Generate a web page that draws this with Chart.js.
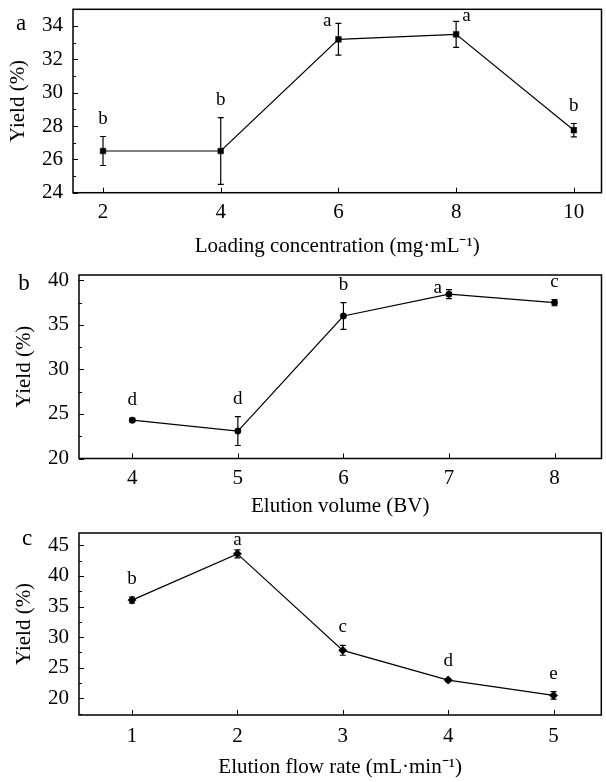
<!DOCTYPE html>
<html><head><meta charset="utf-8">
<script src="https://cdn.jsdelivr.net/npm/chart.js@4.4.1/dist/chart.umd.min.js"></script>
<style>
html,body{margin:0;padding:0;background:#fff;}
.p{position:absolute;left:0;width:606px;}
canvas{display:block;}
</style></head><body>
<div class="p" style="top:0px;height:260px"><canvas id="ca" width="606" height="260"></canvas></div>
<div class="p" style="top:260px;height:260px"><canvas id="cb" width="606" height="260"></canvas></div>
<div class="p" style="top:520px;height:262px"><canvas id="cc" width="606" height="262"></canvas></div>
<script>
// ---- Panel a: loading concentration ----
const loadingConc = [2, 4, 6, 8, 10];
const yieldA = [26.5, 26.5, 33.2, 33.5, 27.75];
const errA = [0.87, 2.0, 0.95, 0.78, 0.4];
const lettersA = ['b', 'b', 'a', 'a', 'b'];
const xTicksA = [2, 4, 6, 8, 10];
const yTicksA = [24, 26, 28, 30, 32, 34];

// ---- Panel b: elution volume ----
const elutionVol = [4, 5, 6, 7, 8];
const yieldB = [24.3, 23.08, 36.0, 38.45, 37.5];
const errB = [0.2, 1.62, 1.5, 0.5, 0.35];
const lettersB = ['d', 'd', 'b', 'a', 'c'];
const xTicksB = [4, 5, 6, 7, 8];
const yTicksB = [20, 25, 30, 35, 40];

// ---- Panel c: elution flow rate ----
const flowRate = [1, 2, 3, 4, 5];
const yieldC = [36.05, 43.6, 27.85, 23.0, 20.5];
const errC = [0.5, 0.65, 0.8, 0.25, 0.6];
const lettersC = ['b', 'a', 'c', 'd', 'e'];
const xTicksC = [1, 2, 3, 4, 5];
const yTicksC = [20, 25, 30, 35, 40, 45];

const FONT = '"Liberation Serif", "Times New Roman", serif';
const FS = 21;

const panels = [
  {id:'ca', h:260, tag:'a', xs:loadingConc, ys:yieldA, err:errA, letters:lettersA, xTicks:xTicksA, yTicks:yTicksA,
   xTitle:'Loading concentration (mg\u00b7mL\u207b\u00b9)', area:{left:73, top:9.3, right:604, bottom:192.7},
   xMin:1.49, xMax:10.47, yMin:24, yMax:35, pStyle:'rect', pRad:4, side:['top','top','left','right','top'],
   tagPos:{x:21, y:30}, yTitlePad:6, xTickPad:7.5, xTitlePad:1},
  {id:'cb', h:260, tag:'b', xs:elutionVol, ys:yieldB, err:errB, letters:lettersB, xTicks:xTicksB, yTicks:yTicksB,
   xTitle:'Elution volume (BV)', area:{left:79, top:15, right:605, bottom:198.5},
   xMin:3.495, xMax:8.445, yMin:20, yMax:40.6, pStyle:'circle', pRad:3.2, side:['top','top','top','left','top'],
   tagPos:{x:24, y:29.5}, yTitlePad:12, xTickPad:7, xTitlePad:1},
  {id:'cc', h:262, tag:'c', xs:flowRate, ys:yieldC, err:errC, letters:lettersC, xTicks:xTicksC, yTicks:yTicksC,
   xTitle:'Elution flow rate (mL\u00b7min\u207b\u00b9)', area:{left:79, top:13, right:605, bottom:195},
   xMin:0.497, xMax:5.453, yMin:17.3, yMax:47, pStyle:'rectRot', pRad:4.2, side:['top','top','top','top','top'],
   tagPos:{x:27, y:25}, yTitlePad:12, xTickPad:9, xTitlePad:1.5}
];

const decor = {
  id:'decor',
  afterDatasetsDraw(chart, args, o) {
    const P = o.panel;
    const {ctx, chartArea:ca, scales:{x, y}} = chart;
    ctx.save();
    // error bars
    ctx.strokeStyle = '#000';
    ctx.lineWidth = 1.2;
    P.xs.forEach((xv, i) => {
      const px = x.getPixelForValue(xv);
      const t = y.getPixelForValue(P.ys[i] + P.err[i]);
      const b = y.getPixelForValue(P.ys[i] - P.err[i]);
      ctx.beginPath();
      ctx.moveTo(px, t); ctx.lineTo(px, b);
      ctx.moveTo(px - 3, t); ctx.lineTo(px + 3, t);
      ctx.moveTo(px - 3, b); ctx.lineTo(px + 3, b);
      ctx.stroke();
    });
    // frame
    ctx.lineWidth = 1.5;
    ctx.strokeRect(ca.left, ca.top, ca.right - ca.left, ca.bottom - ca.top);
    // ticks (inward)
    ctx.lineWidth = 1;
    ctx.beginPath();
    P.yTicks.forEach(v => {
      const py = Math.round(y.getPixelForValue(v)) + 0.5;
      ctx.moveTo(ca.left, py); ctx.lineTo(ca.left + 5, py);
    });
    const st = P.yTicks[1] - P.yTicks[0];
    for (let v = P.yTicks[0] - st / 2; v < P.yMax; v += st) {
      if (v <= P.yMin) continue;
      const py = Math.round(y.getPixelForValue(v)) + 0.5;
      ctx.moveTo(ca.left, py); ctx.lineTo(ca.left + 3, py);
    }
    P.xTicks.forEach(v => {
      const px = Math.round(x.getPixelForValue(v)) + 0.5;
      ctx.moveTo(px, ca.bottom); ctx.lineTo(px, ca.bottom - 5);
    });
    ctx.stroke();
    // significance letters
    ctx.fillStyle = '#000';
    ctx.font = '19px ' + FONT;
    ctx.textBaseline = 'alphabetic';
    P.xs.forEach((xv, i) => {
      const px = x.getPixelForValue(xv);
      const t = y.getPixelForValue(P.ys[i] + P.err[i]);
      const s = P.side[i];
      if (s === 'top') {
        ctx.textAlign = 'center';
        const by = Math.max(t - 13, ca.top + 12);
        ctx.fillText(P.letters[i], px, by);
      } else if (s === 'left') {
        ctx.textAlign = 'right';
        ctx.fillText(P.letters[i], px - 7, t + 3);
      } else {
        ctx.textAlign = 'left';
        ctx.fillText(P.letters[i], px + 6, t);
      }
    });
    // panel tag
    ctx.font = '23px ' + FONT;
    ctx.textAlign = 'center';
    ctx.fillText(P.tag, P.tagPos.x, P.tagPos.y);
    ctx.restore();
  }
};

panels.forEach(P => {
  const A = P.area;
  new Chart(document.getElementById(P.id), {
    type: 'line',
    data: {
      datasets: [{
        data: P.xs.map((xv, i) => ({x: xv, y: P.ys[i]})),
        borderColor: '#000', borderWidth: 1.2,
        pointStyle: P.pStyle, pointRadius: P.pRad,
        pointBackgroundColor: '#000', pointBorderColor: '#000', pointBorderWidth: 0.5,
        tension: 0, fill: false
      }]
    },
    options: {
      responsive: false, animation: false, devicePixelRatio: 1,
      layout: {padding: {top: A.top, right: 606 - A.right, left: 0, bottom: 0}},
      plugins: {legend: {display: false}, tooltip: {enabled: false}, decor: {panel: P}},
      scales: {
        x: {
          type: 'linear', min: P.xMin, max: P.xMax,
          afterBuildTicks: s => { s.ticks = P.xTicks.map(v => ({value: v})); },
          afterFit: s => { s.height = P.h - A.bottom; s.paddingLeft = 0; s.paddingRight = 0; },
          grid: {display: false, drawTicks: false}, border: {display: false},
          ticks: {color: '#000', font: {family: FONT, size: FS}, padding: P.xTickPad, maxRotation: 0, autoSkip: false},
          title: {display: true, text: P.xTitle, color: '#000', font: {family: FONT, size: FS}, padding: {top: 0, bottom: P.xTitlePad}}
        },
        y: {
          type: 'linear', min: P.yMin, max: P.yMax,
          afterBuildTicks: s => { s.ticks = P.yTicks.map(v => ({value: v})); },
          afterFit: s => { s.width = A.left; s.paddingTop = 0; s.paddingBottom = 0; },
          grid: {display: false, drawTicks: false}, border: {display: false},
          ticks: {color: '#000', font: {family: FONT, size: FS}, padding: 10},
          title: {display: true, text: 'Yield (%)', color: '#000', font: {family: FONT, size: FS}, padding: {top: P.yTitlePad, bottom: 0}}
        }
      }
    },
    plugins: [decor]
  });
});
</script>
</body></html>
